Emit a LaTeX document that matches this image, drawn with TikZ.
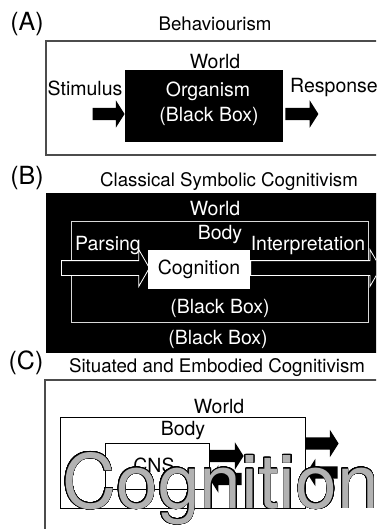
\documentclass[tikz,border=0pt]{standalone}
\usepackage{fontspec}
\setmainfont{TeX Gyre Heros}
\usepackage{contour}
\usetikzlibrary{shapes.arrows}
\contourlength{0.6pt}
\contournumber{32}

\begin{document}
\begin{tikzpicture}
  [x=1pt,y=-1pt,
   every node/.style={inner sep=0pt,font=\fontsize{19.5}{23}\selectfont},
   title/.style={font=\fontsize{18.7}{22}\selectfont},
   tag/.style={font=\fontsize{25}{30}\selectfont},
   frame/.style={draw=black!70,line width=1.2pt},
   box/.style={draw,line width=.8pt},
   blockarrow/.style={single arrow,fill=black,inner ysep=6pt,
     single arrow head extend=7.5pt,single arrow tip angle=115,minimum height=#1},
   hollowarrow/.style={single arrow,draw=white,fill=black,line width=.8pt,
     inner ysep=7pt,single arrow head extend=11pt,single arrow tip angle=120,
     minimum height=#1},
   bigword/.style={font=\fontsize{75}{80}\selectfont}]
  \useasboundingbox (0,0) rectangle (376,529);
  \clip (0,0) rectangle (376,529);

  % (A) behaviourism
  \node[tag] (tagA) at (27,24) {(A)};
  \node[title] (titleA) at (215,24) {Behaviourism};
  \draw[frame] (46,41) rectangle (400,155);
  \node (worldA) at (215,62) {World};
  \node[fill=black,minimum width=158,minimum height=72] (org) at (204,106) {};
  \node[text=white] (orgname) at (208,91) {Organism};
  \node[text=white] (orgbox) at (209,116) {(Black Box)};
  \node (stimlbl) at (85,88) {Stimulus};
  \node[anchor=west] (resplbl) at (290,88) {Response};
  \node[blockarrow=32,anchor=tip] (stim) at (org.west |- 0,114) {};
  \node[blockarrow=33,anchor=tail] (resp) at ([xshift=2pt]org.east |- 0,114) {};

  % (B) classical symbolic
  \node[tag] (tagB) at (27,178) {(B)};
  \node[title] (titleB) at (229,182) {Classical Symbolic Cognitivism};
  \node[fill=black,minimum width=354,minimum height=160] (worldB) at (223,273) {};
  \node[text=white] (worldBlbl) at (215,209) {World};
  \node[draw=white!85!black,line width=.8pt,minimum width=297,minimum height=101] (bodyB) at (219.5,271.5) {};
  \node[text=white] (bodyBlbl) at (220,235) {Body};
  \node[text=white] (parslbl) at (108,246) {Parsing};
  \node[text=white] (interlbl) at (308,246) {Interpretation};
  \node[hollowarrow=88,anchor=tail] (pars) at (61,268) {};
  \node[fill=white,minimum width=102,minimum height=39] (cog) at (199,269.5) {Cognition};
  \node[hollowarrow=130,anchor=tail] (inter) at (cog.east |- pars.tail) {};
  \node[text=white] (bbinner) at (220,308) {(Black Box)};
  \node[text=white] (bbouter) at (218,339) {(Black Box)};

  % (C) situated and embodied
  \node[tag] (tagC) at (26,363) {(C)};
  \node[title] (titleC) at (217,368) {Situated and Embodied Cognitivism};
  \draw[frame,line width=1.6pt] (45,380) rectangle (400,560);
  \node (worldClbl) at (219,407) {World};
  \node[box,minimum width=245,minimum height=91] (worldC) at (182.5,462.5) {};
  \node (bodyClbl) at (183,431) {Body};
  \node[box,minimum width=104,minimum height=46] (cns) at (157,466) {};
  \node (cnslbl) at (154,465) {CNS};
  \node[blockarrow=34,anchor=tail] (out1) at (cns.east |- 0,456) {};
  \node[blockarrow=32,shape border rotate=180,anchor=tip] (in1) at (cns.east |- 0,479) {};
  \node[blockarrow=33,anchor=tail] (out2) at (worldC.east |- 0,443.5) {};
  \node[blockarrow=31,shape border rotate=180,anchor=tip] (in2) at ([xshift=1pt]worldC.east |- 0,472.5) {};
  \node[bigword,anchor=base west] (cogC) at (62,508) {\color{black!30}\contour{black}{Cognition}};
\end{tikzpicture}
\end{document}
